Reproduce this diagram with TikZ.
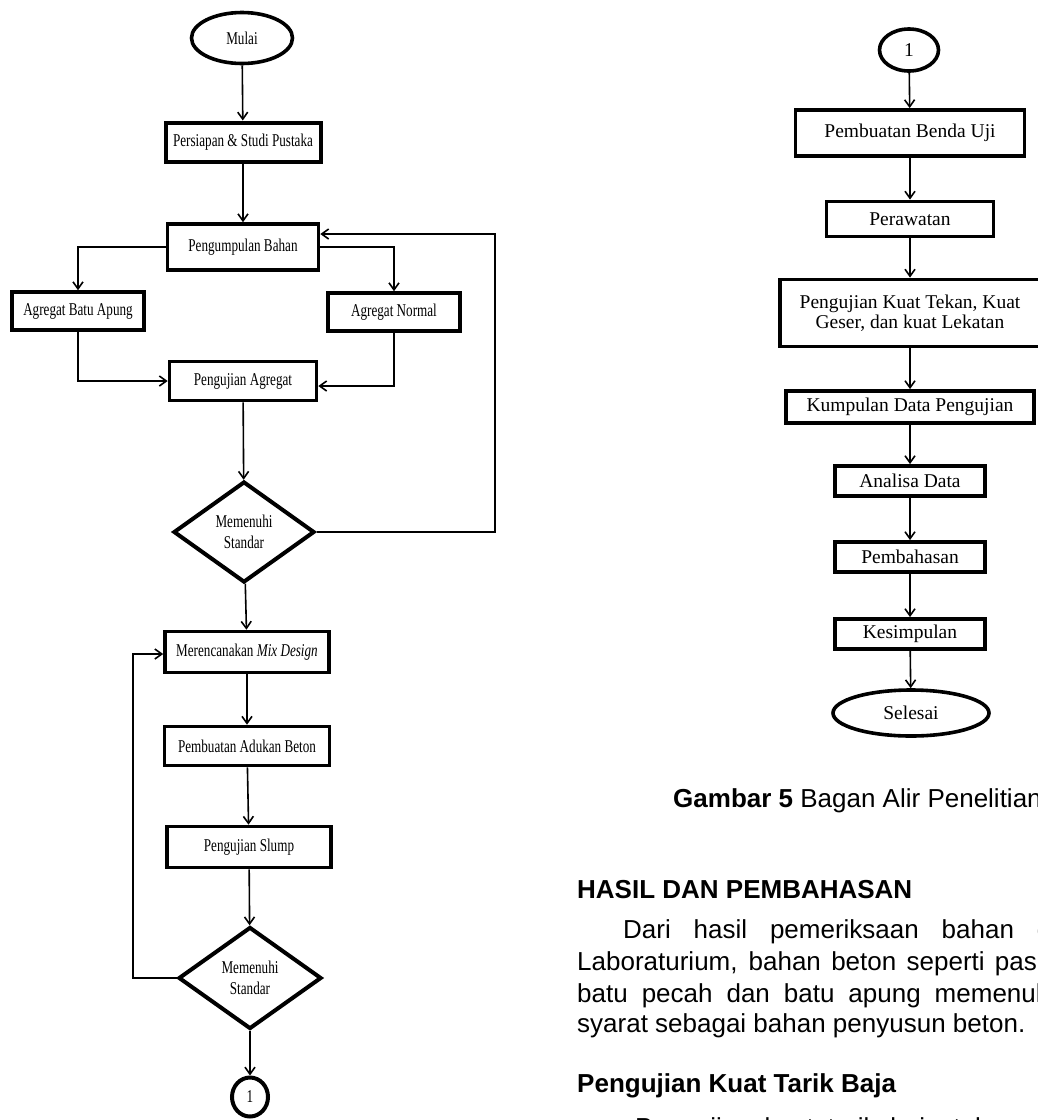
\documentclass[tikz,border=0pt]{standalone}
\usepackage{fontspec}
\setmainfont{Liberation Serif}
\setsansfont{Liberation Sans}
\newfontfamily\sempit[FakeStretch=0.73]{Liberation Serif}
\usetikzlibrary{shapes.geometric,arrows.meta}

\tikzset{
	kotak/.style = {draw, rectangle, line width=3.6pt, inner sep=0pt, font=\sempit\fontsize{18}{21}\selectfont},
	kotakb/.style = {draw, rectangle, line width=3.8pt, inner sep=0pt, align=center, font=\fontsize{19.5}{19.5}\selectfont},
	terminal/.style = {draw, ellipse, line width=3.6pt, inner sep=0pt, font=\sempit\fontsize{18}{21}\selectfont},
	terminalb/.style = {draw, ellipse, line width=3.6pt, inner sep=0pt, font=\fontsize{19.5}{19.5}\selectfont},
	keputusan/.style = {draw, diamond, line width=4pt, inner sep=0pt, align=center, font=\sempit\fontsize{18}{21}\selectfont},
	panah/.style = {line width=1.6pt, -{Straight Barb[length=7pt,width=10pt]}},
	teks/.style = {anchor=base west, inner sep=0pt, font=\sffamily\fontsize{26}{31}\selectfont}
}

\begin{document}
\begin{tikzpicture}[x=1pt, y=-1pt]
	\useasboundingbox (0,0) rectangle (1038,1120);
	\clip (0,0) rectangle (1038,1120);

	% bagan kiri
	\node[terminal, minimum width=101pt, minimum height=51pt] (mulai) at (242,38) {Mulai};
	\node[kotak, line width=4pt, minimum width=155pt, minimum height=39pt] (persiapan) at (243,142) {Persiapan \& Studi Pustaka};
	\node[kotak, minimum width=151pt, minimum height=46pt] (kumpul) at (243,247) {Pengumpulan Bahan};
	\node[kotak, minimum width=132pt, minimum height=38pt] (apung) at (78,311) {Agregat Batu Apung};
	\node[kotak, minimum width=132pt, minimum height=38pt] (normal) at (394,312) {Agregat Normal};
	\node[kotak, minimum width=147pt, minimum height=39pt] (ujiagr) at (243,381) {Pengujian Agregat};
	\node[keputusan, minimum width=141pt, minimum height=101pt] (cek1) at (244,532) {Memenuhi\\Standar};
	\node[kotak, minimum width=164pt, minimum height=41pt] (mix) at (247,652) {Merencanakan \textit{Mix Design}};
	\node[kotak, minimum width=165pt, minimum height=39pt] (adukan) at (247,746) {Pembuatan Adukan Beton};
	\node[kotak, minimum width=164pt, minimum height=41pt] (slump) at (249,847) {Pengujian Slump};
	\node[keputusan, minimum width=143pt, minimum height=102pt] (cek2) at (250,978) {Memenuhi\\Standar};
	\node[terminal, line width=4pt, minimum width=36pt, minimum height=39pt] (satu) at (250,1097) {1};

	\coordinate (balik1) at (495,532);
	\coordinate (balik2) at (133,978);

	\draw[panah] (mulai) -- (persiapan);
	\draw[panah] (persiapan) -- (kumpul);
	\draw[panah] (kumpul.west) -| (apung.north);
	\draw[panah] (kumpul.east) -| (normal.north);
	\draw[panah] (apung.south) |- (ujiagr.west);
	\draw[panah] (normal.south) |- ([yshift=-5pt]ujiagr.east);
	\draw[panah] (ujiagr) -- (cek1);
	\draw[panah] (cek1.east) -- (balik1) |- ([yshift=13pt]kumpul.east);
	\draw[panah] (cek1) -- (mix);
	\draw[panah] (mix) -- (adukan);
	\draw[panah] (adukan) -- (slump);
	\draw[panah] (slump) -- (cek2);
	\draw[panah] (cek2.west) -- (balik2) |- ([yshift=-2pt]mix.west);
	\draw[panah] (cek2) -- (satu);

	% bagan kanan
	\node[terminalb, minimum width=59pt, minimum height=42pt] (satub) at (909,50) {1};
	\node[kotakb, minimum width=229pt, minimum height=46pt] (benda) at (910,133) {Pembuatan Benda Uji};
	\node[kotakb, minimum width=167pt, minimum height=35pt] (rawat) at (910,219) {Perawatan};
	\node[kotakb, minimum width=260pt, minimum height=67pt] (kuat) at (910,313) {Pengujian Kuat Tekan, Kuat\\Geser, dan kuat Lekatan};
	\node[kotakb, minimum width=248pt, minimum height=32pt] (data) at (910,407) {Kumpulan Data Pengujian};
	\node[kotakb, minimum width=150pt, minimum height=30pt] (analisa) at (910,481) {Analisa Data};
	\node[kotakb, minimum width=150pt, minimum height=30pt] (bahas) at (910,557) {Pembahasan};
	\node[kotakb, minimum width=150pt, minimum height=30pt] (simpul) at (910,634) {Kesimpulan};
	\node[terminalb, minimum width=156pt, minimum height=46pt] (selesai) at (911,713) {Selesai};

	\draw[panah] (satub) -- (benda);
	\draw[panah] (benda) -- (rawat);
	\draw[panah] (rawat) -- (kuat);
	\draw[panah] (kuat) -- (data);
	\draw[panah] (data) -- (analisa);
	\draw[panah] (analisa) -- (bahas);
	\draw[panah] (bahas) -- (simpul);
	\draw[panah] (simpul) -- (selesai);

	% teks di bawah bagan
	\node[teks] (judul) at (673,807) {\textbf{Gambar 5} Bagan Alir Penelitian};
	\node[teks] (bab) at (577,898) {\textbf{HASIL DAN PEMBAHASAN}};
	\node[teks] (baris1) at (623,938) {\makebox[434pt][s]{Dari hasil pemeriksaan bahan di}};
	\node[teks] (baris2) at (577,970) {\makebox[480pt][s]{Laboraturium, bahan beton seperti pasir,}};
	\node[teks] (baris3) at (577,1002) {\makebox[479pt][s]{batu pecah dan batu apung memenuhi}};
	\node[teks] (baris4) at (577,1032) {syarat sebagai bahan penyusun beton.};
	\node[teks] (subbab) at (577,1092) {\textbf{Pengujian Kuat Tarik Baja}};
	\node[teks] (baris5) at (635,1136) {\makebox[418pt][s]{Pengujian kuat tarik baja tulangan}};
\end{tikzpicture}
\end{document}
